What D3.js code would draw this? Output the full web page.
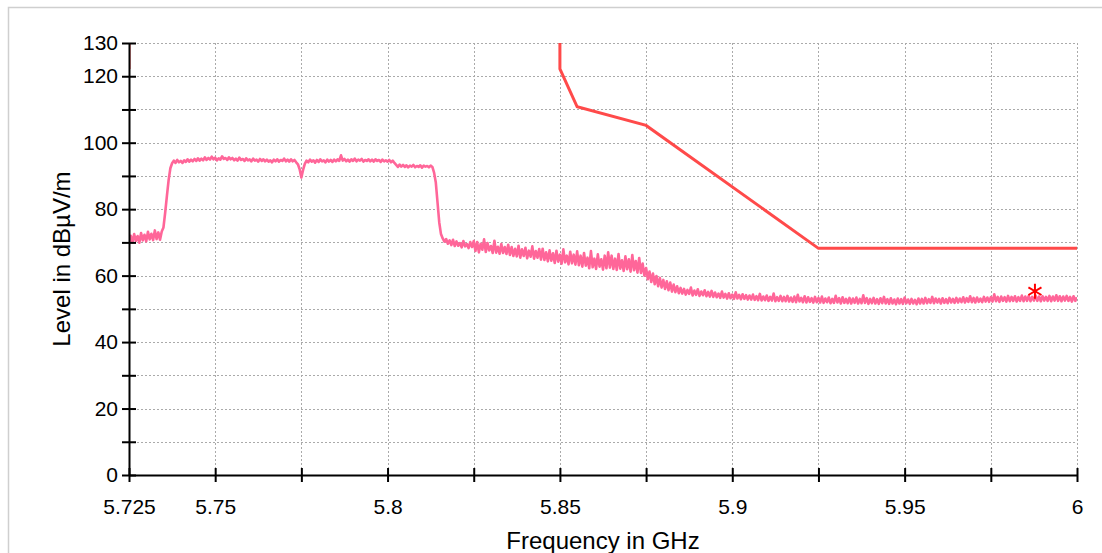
<!DOCTYPE html>
<html>
<head>
<meta charset="utf-8">
<title>Level vs Frequency</title>
<script src="https://d3js.org/d3.v7.min.js"></script>
<style>
  body { margin: 0; background: #fff; }
  svg { display: block; font-family: "Liberation Sans", Arial, sans-serif; }
  .grid line { stroke: #aaaaaa; stroke-width: 1; stroke-dasharray: 2,2; }
  .axis path, .axis line { stroke: #000; stroke-width: 2; }
  .axis text { font-size: 21px; fill: #000; }
  .title { font-size: 24px; fill: #000; }
</style>
</head>
<body>
<svg id="chart" width="1102" height="553"></svg>
<script>
// axis ticks
var xTicks = [5.725, 5.75, 5.775, 5.8, 5.825, 5.85, 5.875, 5.9, 5.925, 5.95, 5.975, 6];
var xLabels = {"5.725": "5.725", "5.75": "5.75", "5.8": "5.8", "5.85": "5.85", "5.9": "5.9", "5.95": "5.95", "6": "6"};
var yTicks = [0, 10, 20, 30, 40, 50, 60, 70, 80, 90, 100, 110, 120, 130];
var yLabels = [0, 20, 40, 60, 80, 100, 120, 130];

// limit line (two pieces)
var limitLeft = [[5.725, 140], [5.725, 122.2]];
var limitRight = [[5.85, 140], [5.85, 122.2], [5.855, 110.8], [5.875, 105.2], [5.925, 68.2], [6.0, 68.2]];

// measured trace, one value every 0.5 MHz from 5.725 GHz
var traceStart = 5.725, traceStep = 0.0005;
var traceLevel = [
  69.8, 72.0, 70.0, 72.5, 70.4, 71.9, 69.9, 72.8, 70.6, 72.3, 70.3, 73.2, 70.9, 72.6, 70.7, 73.6, 71.0, 73.0, 70.8, 73.3,
  74.5, 79.0, 84.0, 88.8, 92.3, 93.8, 94.6, 93.9, 94.8, 94.1, 94.5, 93.9, 94.7, 94.2, 95.0, 94.3, 94.9, 94.4, 95.1, 94.5,
  95.3, 94.6, 95.2, 94.7, 95.6, 94.8, 95.4, 94.9, 95.8, 95.0, 95.5, 94.7, 95.3, 94.9, 95.9, 95.1, 95.4, 94.8, 95.6, 95.0,
  95.4, 94.7, 95.2, 94.6, 95.5, 94.8, 95.1, 94.5, 95.3, 94.7, 95.0, 94.4, 95.2, 94.6, 94.9, 94.3, 95.1, 94.5, 95.0, 94.4,
  94.9, 94.3, 94.7, 94.1, 94.9, 94.4, 95.0, 94.3, 94.8, 94.5, 95.2, 94.4, 94.9, 94.3, 95.0, 94.4, 94.8, 94.1, 93.5, 92.0,
  89.5, 91.8, 93.6, 94.6, 94.1, 94.9, 94.3, 94.7, 94.0, 94.8, 94.2, 95.0, 94.4, 94.7, 94.1, 94.9, 94.3, 94.8, 94.2, 94.9,
  94.4, 95.0, 94.5, 96.2, 94.6, 95.1, 94.4, 94.9, 94.3, 95.0, 94.5, 95.2, 94.4, 94.9, 94.6, 95.1, 94.3, 94.8, 94.5, 95.0,
  94.4, 94.9, 94.3, 95.0, 94.5, 94.8, 94.2, 94.9, 94.4, 94.7, 94.3, 94.8, 94.1, 94.6, 93.9, 93.3, 92.7, 93.4, 92.8, 93.3,
  92.7, 93.2, 92.6, 93.1, 92.8, 93.3, 92.6, 93.0, 92.7, 93.2, 92.5, 93.1, 92.8, 93.0, 92.6, 93.1, 92.7, 91.0, 88.0, 82.0,
  76.0, 72.5, 71.2, 70.2, 71.0, 69.6, 70.6, 69.2, 70.8, 68.9, 70.3, 69.0, 69.8, 68.5, 70.4, 68.8, 69.5, 68.3, 70.1, 68.6,
  70.4, 67.4, 70.1, 67.0, 69.6, 67.8, 70.9, 67.1, 69.8, 67.6, 68.9, 66.8, 70.5, 66.9, 68.7, 66.6, 69.5, 66.8, 68.6, 66.5,
  69.3, 66.2, 68.6, 65.9, 68.1, 65.8, 69.0, 65.4, 67.9, 65.9, 68.4, 65.2, 67.5, 65.7, 68.8, 65.1, 67.4, 65.4, 68.0, 64.8,
  68.1, 64.7, 67.0, 64.3, 67.6, 64.5, 66.7, 63.8, 67.5, 64.2, 66.3, 63.6, 67.9, 64.0, 66.0, 63.4, 67.2, 63.7, 66.3, 63.3,
  67.3, 63.1, 66.0, 62.7, 66.8, 63.0, 65.4, 62.2, 67.4, 62.5, 65.1, 62.0, 66.4, 62.7, 64.9, 61.8, 66.0, 62.2, 67.0, 62.4,
  66.0, 62.0, 65.1, 61.7, 66.5, 62.1, 64.6, 61.4, 65.8, 61.9, 64.9, 61.2, 66.2, 61.6, 64.4, 60.9, 65.3, 60.8, 63.6, 60.0,
  62.3, 58.9, 61.2, 58.1, 60.6, 57.4, 59.9, 56.8, 59.3, 56.4, 58.7, 56.0, 58.3, 55.6, 57.9, 55.2, 57.3, 55.0, 56.8, 54.7,
  56.3, 54.6, 56.0, 54.3, 55.7, 54.5, 56.4, 54.0, 55.5, 54.2, 55.9, 53.9, 55.2, 54.1, 55.6, 53.8, 55.1, 53.7, 55.4, 53.6,
  54.9, 53.5, 54.6, 53.3, 55.2, 53.4, 54.5, 53.1, 54.7, 53.2, 54.3, 53.0, 55.0, 53.1, 54.2, 52.9, 54.4, 53.0, 54.1, 52.8,
  54.0, 52.8, 54.3, 52.7, 53.8, 52.6, 54.5, 52.5, 53.7, 52.6, 54.0, 52.4, 53.6, 52.5, 54.6, 52.3, 53.5, 52.4, 53.9, 52.3,
  53.6, 52.3, 53.9, 52.2, 53.4, 52.1, 53.7, 52.0, 54.2, 52.2, 53.3, 52.0, 53.8, 51.9, 53.5, 52.1, 53.2, 51.9, 53.6, 52.0,
  53.3, 51.9, 53.7, 51.8, 53.1, 52.0, 53.4, 51.7, 53.0, 51.8, 53.9, 51.9, 53.2, 51.6, 53.5, 51.8, 53.0, 51.7, 53.3, 51.6,
  53.1, 51.8, 53.4, 51.6, 53.0, 51.7, 54.1, 51.8, 53.2, 51.5, 53.0, 51.7, 53.3, 51.6, 52.9, 51.5, 53.2, 51.7, 53.6, 51.6,
  52.9, 51.5, 53.2, 51.6, 52.8, 51.4, 53.1, 51.6, 52.9, 51.5, 53.4, 51.7, 52.8, 51.5, 53.0, 51.6, 52.7, 51.4, 53.1, 51.6,
  53.0, 51.6, 53.3, 51.7, 52.9, 51.8, 53.6, 51.7, 53.1, 51.9, 53.0, 51.6, 53.2, 51.8, 52.9, 51.7, 53.3, 51.9, 53.0, 51.8,
  53.3, 51.9, 53.1, 52.0, 53.5, 51.9, 53.2, 52.1, 53.8, 52.0, 53.3, 51.9, 53.4, 52.1, 53.1, 52.0, 53.6, 52.2, 53.4, 52.1,
  53.5, 52.2, 54.4, 52.3, 53.6, 52.1, 53.7, 52.4, 53.5, 52.2, 53.9, 52.3, 53.6, 52.4, 53.8, 52.2, 53.5, 52.4, 54.0, 52.3,
  53.7, 52.4, 53.9, 52.3, 53.6, 52.5, 54.0, 52.4, 53.7, 52.3, 53.8, 52.5, 53.6, 52.4, 53.9, 52.3, 53.7, 52.5, 54.1, 52.4,
  53.8, 52.3, 53.7, 52.5, 53.9, 52.4, 53.6, 52.2, 53.8, 52.4, 53.5
];

// peak marker
var markerFreq = 5.9878, markerLevel = 55.3;

var svg = d3.select("#chart"),
    margin = {top: 43, right: 25, bottom: 78, left: 129},
    width = 1102 - margin.left - margin.right,
    height = 553 - margin.top - margin.bottom;

// outer panel border
svg.append("rect")
    .attr("x", 8.5).attr("y", 7.5)
    .attr("width", 1100).attr("height", 600)
    .attr("fill", "none").attr("stroke", "#cfcfcf").attr("stroke-width", 1.5);

var x = d3.scaleLinear().domain([5.725, 6]).range([0, width]),
    y = d3.scaleLinear().domain([0, 130]).range([height, 0]);

var g = svg.append("g")
    .attr("transform", "translate(" + margin.left + "," + margin.top + ")");

g.append("defs").append("clipPath").attr("id", "clip")
  .append("rect").attr("width", width).attr("height", height);

// grid
g.append("g").attr("class", "grid")
  .selectAll("line").data(yTicks.filter(function(d) { return d > 0; }))
  .enter().append("line")
    .attr("x1", 0).attr("x2", width)
    .attr("y1", function(d) { return Math.round(y(d)) + 0.5; })
    .attr("y2", function(d) { return Math.round(y(d)) + 0.5; });

g.append("g").attr("class", "grid")
  .selectAll("line").data(xTicks.slice(1))
  .enter().append("line")
    .attr("y1", 0).attr("y2", height)
    .attr("x1", function(d) { return Math.round(x(d)) + 0.5; })
    .attr("x2", function(d) { return Math.round(x(d)) + 0.5; });

var line = d3.line()
    .x(function(d) { return x(d[0]); })
    .y(function(d) { return y(d[1]); });

var plot = g.append("g").attr("clip-path", "url(#clip)");

var trace = traceLevel.map(function(v, i) { return [traceStart + i * traceStep, v]; });

plot.append("path")
    .datum(trace)
    .attr("fill", "none")
    .attr("stroke", "#ff6699")
    .attr("stroke-width", 2.6)
    .attr("stroke-linejoin", "round")
    .attr("d", line);

[limitLeft, limitRight].forEach(function(seg) {
  plot.append("path")
      .datum(seg)
      .attr("fill", "none")
      .attr("stroke", "#ff4a4a")
      .attr("stroke-width", 3)
      .attr("d", line);
});

// marker
g.append("path")
    .attr("d", d3.symbol().type(d3.symbolAsterisk).size(160))
    .attr("transform", "translate(" + x(markerFreq) + "," + y(markerLevel) + ")")
    .attr("fill", "none")
    .attr("stroke", "#ff0000")
    .attr("stroke-width", 2);

// axes
var xAxis = d3.axisBottom(x)
    .tickValues(xTicks)
    .tickSizeInner(7).tickSizeOuter(0).tickPadding(17)
    .tickFormat(function(d) { var k = String(+d.toFixed(3)); return xLabels[k] || ""; });

var gx = g.append("g").attr("class", "axis")
    .attr("transform", "translate(0," + height + ")")
    .call(xAxis);
gx.selectAll(".tick line").attr("y1", -7);

var yAxis = d3.axisLeft(y)
    .tickValues(yTicks)
    .tickSizeInner(7).tickSizeOuter(0).tickPadding(4)
    .tickFormat(function(d) { return yLabels.indexOf(d) >= 0 ? d : ""; });

var gy = g.append("g").attr("class", "axis").call(yAxis);
gy.selectAll(".tick line").attr("x1", 7);

// titles
svg.append("text").attr("class", "title")
    .attr("x", margin.left + width / 2).attr("y", 549)
    .attr("text-anchor", "middle")
    .text("Frequency in GHz");

svg.append("text").attr("class", "title")
    .attr("transform", "translate(70," + (margin.top + height / 2) + ") rotate(-90)")
    .attr("text-anchor", "middle")
    .text("Level in dBµV/m");
</script>
</body>
</html>
